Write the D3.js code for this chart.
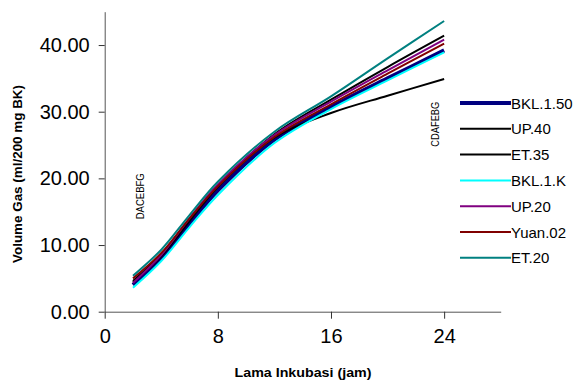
<!DOCTYPE html>
<html><head><meta charset="utf-8">
<script src="https://cdn.jsdelivr.net/npm/d3@7"></script>
<style>body{margin:0;background:#fff}svg{display:block}text{font-family:"Liberation Sans",Arial,sans-serif}</style>
</head><body><svg id="c" width="575" height="383"></svg>
<script>
const hours = [2, 4, 6, 8, 12, 16, 20, 24];
const seriesNames = ["BKL.1.50", "UP.40", "ET.35", "BKL.1.K", "UP.20", "Yuan.02", "ET.20"];
const bkl150 = [4.0, 8.0, 13.2, 18.2, 25.8, 30.7, 35.0, 39.2];
const up40   = [4.6, 8.6, 13.9, 18.9, 26.6, 31.8, 36.7, 41.4];
const et35   = [4.4, 8.3, 13.6, 18.7, 26.1, 29.8, 32.4, 34.9];
const bkl1k  = [3.6, 7.6, 12.7, 17.5, 25.3, 30.4, 34.7, 38.9];
const up20   = [4.3, 8.5, 14.0, 19.1, 26.5, 31.5, 36.2, 40.8];
const yuan02 = [5.0, 8.8, 14.0, 18.8, 26.2, 31.1, 35.7, 40.2];
const et20   = [5.4, 9.3, 14.5, 19.5, 27.0, 32.3, 38.0, 43.6];
const xTicks = [0, 8, 16, 24];
const yTicks = [0, 10, 20, 30, 40];
const annotLeft = "DACEBFG", annotRight = "CDAFEBG";

const values = [bkl150, up40, et35, bkl1k, up20, yuan02, et20];
const colors = ["#000080", "#000000", "#000000", "#00FFFF", "#800080", "#800000", "#008080"];
const widths = [4, 2, 2, 2, 2, 2, 2];

const svg = d3.select("#c");
const x = d3.scaleLinear().domain([0, 28]).range([104.7, 500.7]);
const y = d3.scaleLinear().domain([0, 45]).range([311.7, 11.7]);

// axes
const gx = svg.append("g").attr("transform", "translate(0,311.7)")
  .call(d3.axisBottom(x).tickValues(xTicks).tickSize(7).tickPadding(10).tickSizeOuter(0));
gx.select(".domain").attr("stroke", "#555");
gx.selectAll(".tick line").attr("stroke", "#333");
gx.selectAll("text").attr("font-size", 20).attr("fill", "#000").attr("font-family", "Liberation Sans, Arial, sans-serif");

const gy = svg.append("g").attr("transform", "translate(104.7,0)")
  .call(d3.axisLeft(y).tickValues(yTicks).tickSize(6).tickPadding(9).tickSizeOuter(0).tickFormat(d3.format(".2f")));
gy.select(".domain").attr("stroke", "#555");
gy.selectAll(".tick line").attr("stroke", "#333");
gy.selectAll("text").attr("font-size", 20).attr("fill", "#000").attr("font-family", "Liberation Sans, Arial, sans-serif");

// lines
const line = d3.line().x((d, i) => x(hours[i])).y(d => y(d)).curve(d3.curveCatmullRom.alpha(0.5));
values.forEach((v, k) => {
  svg.append("path").datum(v).attr("d", line).attr("fill", "none")
    .attr("stroke", colors[k]).attr("stroke-width", widths[k]).attr("stroke-linejoin", "round");
});

// axis titles
svg.append("text").attr("x", 303).attr("y", 377).attr("text-anchor", "middle")
  .attr("font-size", 12).attr("font-weight", "bold").attr("textLength", 137).attr("lengthAdjust", "spacingAndGlyphs")
  .text("Lama Inkubasi (jam)");
svg.append("text").attr("transform", "translate(22,174) rotate(-90)").attr("text-anchor", "middle")
  .attr("font-size", 12).attr("font-weight", "bold").attr("textLength", 178).attr("lengthAdjust", "spacingAndGlyphs")
  .text("Volume Gas (ml/200 mg BK)");

// annotations
svg.append("text").attr("transform", "translate(143.5,196.3) rotate(-90)").attr("text-anchor", "middle")
  .attr("font-size", 11).attr("textLength", 46).attr("lengthAdjust", "spacingAndGlyphs").text(annotLeft);
svg.append("text").attr("transform", "translate(438.5,124.2) rotate(-90)").attr("text-anchor", "middle")
  .attr("font-size", 11).attr("textLength", 45).attr("lengthAdjust", "spacingAndGlyphs").text(annotRight);

// legend
const lg = svg.append("g");
seriesNames.forEach((n, k) => {
  const yy = 103 + k * 25.8;
  lg.append("line").attr("x1", 460).attr("x2", 511).attr("y1", yy).attr("y2", yy)
    .attr("stroke", colors[k]).attr("stroke-width", widths[k]);
  lg.append("text").attr("x", 511).attr("y", yy + 5.5).attr("font-size", 15).text(n);
});
</script></body></html>
